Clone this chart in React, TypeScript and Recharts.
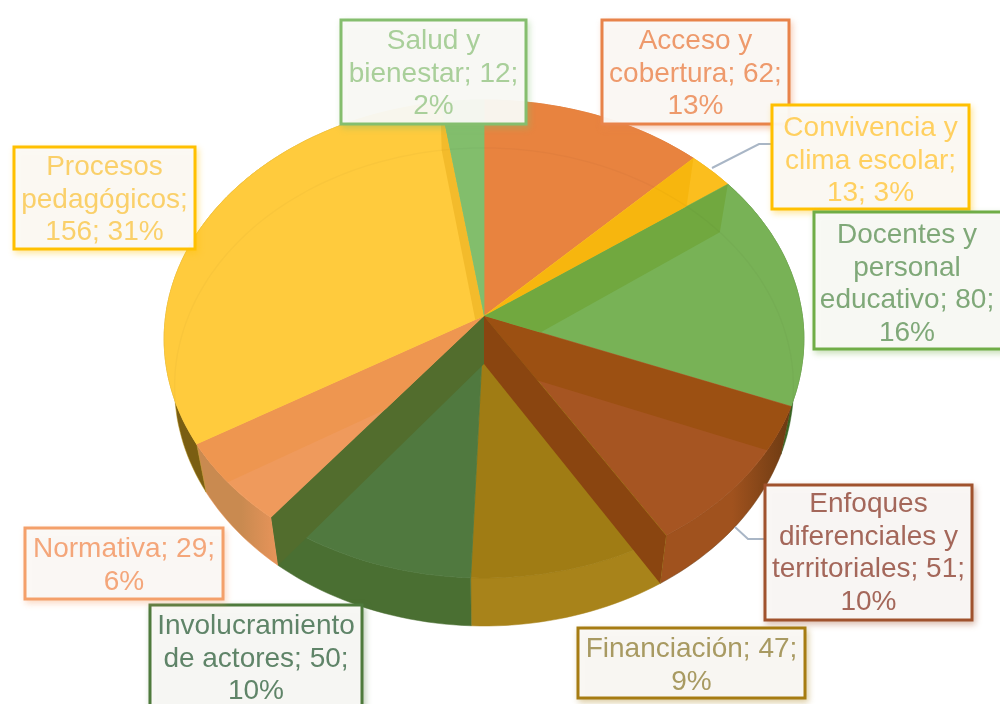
import React from 'react';
import { PieChart, Pie } from 'recharts';

const categories = ['Acceso y cobertura', 'Convivencia y clima escolar', 'Docentes y personal educativo', 'Enfoques diferenciales y territoriales', 'Financiación', 'Involucramiento de actores', 'Normativa', 'Procesos pedagógicos', 'Salud y bienestar'];
const values = [62, 13, 80, 51, 47, 50, 29, 156, 12];
const percents = [13, 3, 16, 10, 9, 10, 6, 31, 2];
const labelLines = [
  ['Acceso y', 'cobertura; 62;', '13%'],
  ['Convivencia y', 'clima escolar;', '13; 3%'],
  ['Docentes y', 'personal', 'educativo; 80;', '16%'],
  ['Enfoques', 'diferenciales y', 'territoriales; 51;', '10%'],
  ['Financiación; 47;', '9%'],
  ['Involucramiento', 'de actores; 50;', '10%'],
  ['Normativa; 29;', '6%'],
  ['Procesos', 'pedagógicos;', '156; 31%'],
  ['Salud y', 'bienestar; 12;', '2%'],
];

const rows = categories.map((name, i) => ({ name, value: values[i], percent: percents[i] }));

// --- styling tables ---
const faceColors = ['#E8833F', '#FBBE1E', '#78B256', '#A65522', '#A07C14', '#50793F', '#EF9A5C', '#FFCB3D', '#82BE6C'];
const borderColors = ['#E8834A', '#FFC000', '#70AD47', '#A0522D', '#A67C12', '#4E7A3C', '#F4A06A', '#FFC000', '#85BE6E'];
const textColors = ['#EE9A6C', '#FFD060', '#7FA878', '#A4675A', '#A89A62', '#5F8468', '#F4A67A', '#FAD06A', '#A9CF9A'];
const sideColors: [string, string][] = [
  ['#C96F30', '#C96F30'], ['#D9A010', '#D9A010'], ['#4A7A2C', '#2F5A1C'], ['#A0521E', '#6B3A12'], ['#A8831A', '#A8831A'],
  ['#4A6F32', '#4A6F32'], ['#C98A50', '#E8945A'], ['#7A5E12', '#B8941F'], ['#6FA85A', '#6FA85A'],
];
const walls: Record<number, { start?: string; end?: string; clipEnd?: boolean }> = {
  1: { start: '#F7B60E' },
  2: { start: '#71A83F' },
  3: { start: '#9C5012', end: '#8A4510' },
  5: { end: '#526D2D' },
  6: { end: '#EE9650', clipEnd: true },
  7: { end: '#F3BB2B', clipEnd: true },
};
const boxes = [
  { x: 602, y: 20, w: 187, h: 104, top: 40 },
  { x: 772, y: 105, w: 197, h: 104, top: 127 },
  { x: 814, y: 212, w: 190, h: 137, top: 234 },
  { x: 765, y: 485, w: 207, h: 135, top: 503 },
  { x: 578, y: 628, w: 227, h: 70, top: 648 },
  { x: 150, y: 605, w: 212, h: 104, top: 625 },
  { x: 25, y: 528, w: 198, h: 71, top: 548 },
  { x: 14, y: 147, w: 181, h: 102, top: 166 },
  { x: 341, y: 20, w: 185, h: 104, top: 40 },
];
const leaders: Record<number, number[][]> = {
  1: [[712, 168], [759, 144], [772, 144]],
  3: [[735, 527], [748, 539], [765, 539]],
};

// --- tilted, perspective projection of the pie ---
const K = 0.0962;
const project = (deg: number, cx: number, cy: number, R: number, lower: boolean) => {
  const t = (deg * Math.PI) / 180;
  const u = Math.cos(t);
  const v = -Math.sin(t);
  const w = 1 - K * v;
  const A = lower ? R * 0.9625 : R * 0.995;
  const B = R * 0.74;
  const y0 = lower ? cy + R * 0.15 : cy;
  return [cx + (A * u) / w, y0 + (B * v) / w];
};
const arc = (a0: number, a1: number, cx: number, cy: number, R: number, lower: boolean) => {
  const n = Math.max(2, Math.ceil(Math.abs(a1 - a0) / 1.5));
  const pts: number[][] = [];
  for (let i = 0; i <= n; i++) pts.push(project(a0 + ((a1 - a0) * i) / n, cx, cy, R, lower));
  return pts;
};
const toLine = (pts: number[][]) => 'M' + pts.map((p) => `${p[0].toFixed(1)},${p[1].toFixed(1)}`).join('L');
const toPath = (pts: number[][]) => toLine(pts) + 'Z';
const idx = (p: any) => categories.indexOf(p.name ?? p.payload?.name);

const SideShape = (p: any) => {
  const i = idx(p);
  const { cx, cy, outerRadius: R, startAngle: a0, endAngle: a1 } = p;
  const pts = [...arc(a0, a1, cx, cy, R, false), ...arc(a1, a0, cx, cy, R, true)];
  const [c0, c1] = sideColors[i];
  return (
    <g>
      <defs>
        <linearGradient id={`side${i}`} x1="0" x2="1" y1="0" y2="0">
          <stop offset="0" stopColor={c0} />
          <stop offset="0.55" stopColor={c0} />
          <stop offset="1" stopColor={c1} />
        </linearGradient>
      </defs>
      <path d={toPath(pts)} fill={`url(#side${i})`} stroke={c1} strokeWidth={0.5} />
    </g>
  );
};

const FaceShape = (p: any) => {
  const i = idx(p);
  const { cx, cy, outerRadius: R, startAngle: a0, endAngle: a1 } = p;
  const pts = [[cx, cy], ...arc(a0, a1, cx, cy, R, false)];
  return <path d={toPath(pts)} fill={faceColors[i]} stroke={faceColors[i]} strokeWidth={0.8} />;
};

const WallShape = (p: any) => {
  const i = idx(p);
  const { cx, cy, outerRadius: R, startAngle: a0, endAngle: a1 } = p;
  const apex = [cx, cy];
  const apexLow = [cx, cy + R * 0.15];
  const wall = (a: number) => toPath([apex, project(a, cx, cy, R, false), project(a, cx, cy, R, true), apexLow]);
  const w = walls[i] ?? {};
  const face = [[cx, cy], ...arc(a0, a1, cx, cy, R, false)];
  return (
    <g>
      <defs>
        <clipPath id={`clip${i}`}>
          <path d={toPath(face)} />
        </clipPath>
      </defs>
      <g clipPath={`url(#clip${i})`}>
        {w.start && <path d={wall(a0)} fill={w.start} />}
        {w.end && w.clipEnd && <path d={wall(a1)} fill={w.end} />}
        {/* faint rim of the lower disc, seen through the translucent top */}
        <path d={toLine(arc(200, -20, cx, cy, R, true))} fill="none" stroke="#000" strokeOpacity={0.022} strokeWidth={1.5} />
      </g>
      {w.end && !w.clipEnd && <path d={wall(a1)} fill={w.end} />}
    </g>
  );
};

const renderLabel = (p: any) => {
  const i = idx(p);
  const b = boxes[i];
  const lines = labelLines[i];
  const lead = leaders[i];
  return (
    <g key={categories[i]}>
      {lead && <path d={toLine(lead)} fill="none" stroke="#A9B6C6" strokeWidth={2} />}
      <rect
        x={b.x}
        y={b.y}
        width={b.w}
        height={b.h}
        fill="#FBFAF8"
        fillOpacity={0.94}
        stroke={borderColors[i]}
        strokeWidth={3}
        style={{ filter: `drop-shadow(2px 3px 3px ${borderColors[i]}66)` }}
      />
      <text
        textAnchor="middle"
        fontFamily="'Liberation Sans', Arial, sans-serif"
        fontSize={28}
        fill={textColors[i]}
      >
        {lines.map((line, j) => (
          <tspan key={j} x={b.x + b.w / 2 - (i === 2 ? 2 : 0)} y={b.top + 9 + j * 32.6}>
            {line}
          </tspan>
        ))}
      </text>
    </g>
  );
};

const pieBase = {
  data: rows,
  dataKey: 'value',
  nameKey: 'name',
  cx: 484,
  cy: 316,
  innerRadius: 0,
  outerRadius: 320,
  startAngle: 90,
  endAngle: -270,
  paddingAngle: 0,
  stroke: 'none',
  isAnimationActive: false,
  labelLine: false,
};

export default function App() {
  return (
    <div style={{ position: 'absolute', left: 0, top: 0, width: 1000, height: 704, overflow: 'hidden', background: '#fff', filter: 'blur(0.7px)' }}>
      <PieChart width={1000} height={704} margin={{ top: 0, right: 0, bottom: 0, left: 0 }}>
        <Pie {...pieBase} shape={SideShape} />
        <Pie {...pieBase} shape={FaceShape} />
        <Pie {...pieBase} shape={WallShape} label={renderLabel} />
      </PieChart>
    </div>
  );
}
